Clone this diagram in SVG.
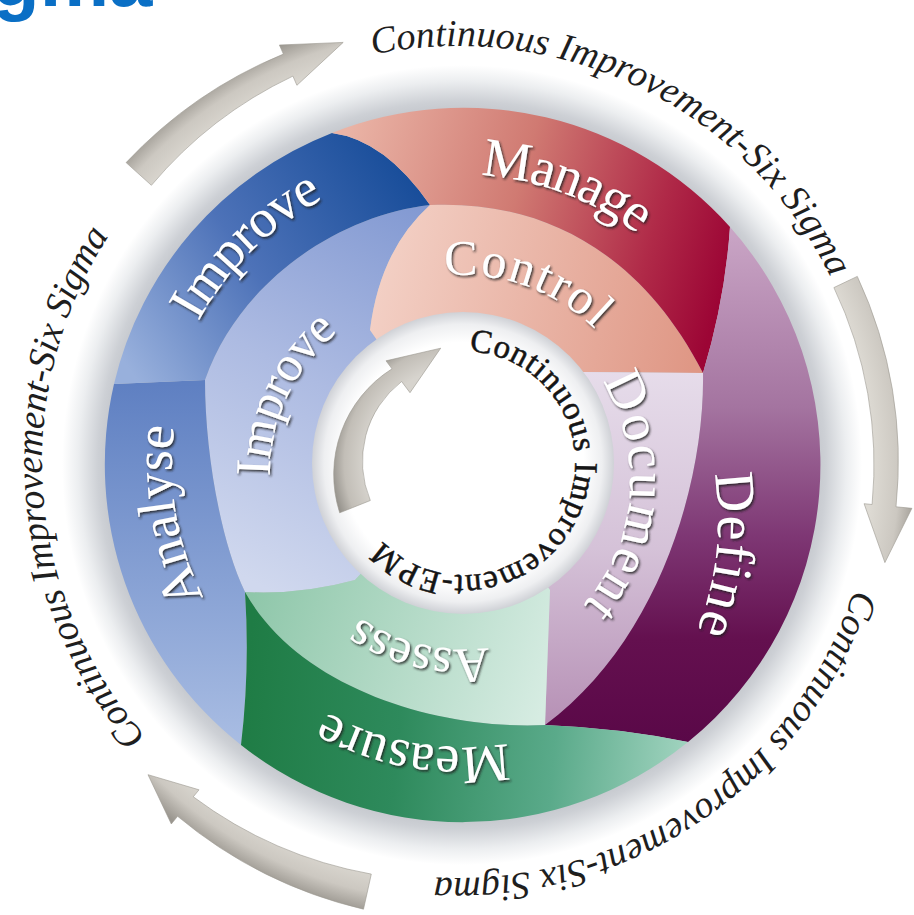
<svg xmlns="http://www.w3.org/2000/svg" width="914" height="915" viewBox="0 0 914 915">
<style>
.lbl{font-family:"Liberation Serif","Times New Roman",serif;fill:#ffffff;filter:url(#emb);}
.ring{font-family:"Liberation Serif","Times New Roman",serif;font-style:italic;font-size:38px;fill:#1e1e1e;}
.hubtxt{font-family:"Liberation Serif","Times New Roman",serif;font-size:33px;fill:#151515;stroke:#151515;stroke-width:0.5px;}
.title{font-family:"Liberation Sans",Arial,sans-serif;font-weight:bold;font-size:78px;fill:#0a6fc5;}
.arr{fill:url(#gArr);stroke:#9a978f;stroke-width:0.6;}
</style>
<defs>
<filter id="emb" x="-10%" y="-10%" width="130%" height="130%">
<feDropShadow dx="1.4" dy="1.8" stdDeviation="0.9" flood-color="#1e1e1e" flood-opacity="0.85"/>
</filter>
<radialGradient id="gShadow" gradientUnits="userSpaceOnUse" cx="462" cy="465" r="400">
<stop offset="0.87" stop-color="#bfc2c8"/><stop offset="0.91" stop-color="#cdd0d5"/><stop offset="0.96" stop-color="#eceef0"/><stop offset="1" stop-color="#ffffff"/>
</radialGradient>
<radialGradient id="gHub" gradientUnits="userSpaceOnUse" cx="463" cy="463" r="151">
<stop offset="0" stop-color="#ffffff"/><stop offset="0.8" stop-color="#ffffff"/><stop offset="0.92" stop-color="#eeeff1"/><stop offset="1" stop-color="#cfd1d6"/>
</radialGradient>
<radialGradient id="gArr" gradientUnits="userSpaceOnUse" cx="462" cy="465" r="470">
<stop offset="0.87" stop-color="#dedbd4"/><stop offset="0.93" stop-color="#ccc8c1"/><stop offset="0.975" stop-color="#9a968f"/>
</radialGradient>
<radialGradient id="gArrIn" gradientUnits="userSpaceOnUse" cx="463" cy="463" r="135">
<stop offset="0.72" stop-color="#d7d4ce"/><stop offset="0.88" stop-color="#c2beb7"/><stop offset="1" stop-color="#8c8983"/>
</radialGradient>
<linearGradient id="gAnalyse" gradientUnits="userSpaceOnUse" x1="0" y1="384" x2="0" y2="745">
<stop offset="0" stop-color="#5f80c2"/><stop offset="1" stop-color="#a9bde3"/>
</linearGradient>
<linearGradient id="gImpO" gradientUnits="userSpaceOnUse" x1="130" y1="370" x2="420" y2="170">
<stop offset="0" stop-color="#98b0dc"/><stop offset="0.45" stop-color="#4d72b8"/><stop offset="1" stop-color="#154b98"/>
</linearGradient>
<linearGradient id="gManage" gradientUnits="userSpaceOnUse" x1="340" y1="150" x2="730" y2="260">
<stop offset="0" stop-color="#eab4a6"/><stop offset="0.45" stop-color="#d07a72"/><stop offset="0.8" stop-color="#b02a48"/><stop offset="1" stop-color="#9c0535"/>
</linearGradient>
<linearGradient id="gControl" gradientUnits="userSpaceOnUse" x1="380" y1="260" x2="700" y2="340">
<stop offset="0" stop-color="#f3d0c5"/><stop offset="1" stop-color="#df9785"/>
</linearGradient>
<linearGradient id="gDefine" gradientUnits="userSpaceOnUse" x1="0" y1="227" x2="0" y2="742">
<stop offset="0" stop-color="#caa6c6"/><stop offset="0.35" stop-color="#a474a0"/><stop offset="0.6" stop-color="#7e3774"/><stop offset="0.8" stop-color="#64104f"/><stop offset="1" stop-color="#5a0848"/>
</linearGradient>
<linearGradient id="gDocument" gradientUnits="userSpaceOnUse" x1="0" y1="372" x2="0" y2="725">
<stop offset="0" stop-color="#e6dcea"/><stop offset="0.5" stop-color="#d5c2d8"/><stop offset="1" stop-color="#b690b5"/>
</linearGradient>
<linearGradient id="gAssess" gradientUnits="userSpaceOnUse" x1="250" y1="600" x2="545" y2="700">
<stop offset="0" stop-color="#8fc7aa"/><stop offset="1" stop-color="#d6ece2"/>
</linearGradient>
<linearGradient id="gMeasure" gradientUnits="userSpaceOnUse" x1="245" y1="700" x2="690" y2="740">
<stop offset="0" stop-color="#1f7c45"/><stop offset="0.35" stop-color="#2e8a5c"/><stop offset="0.7" stop-color="#5aaa8a"/><stop offset="1" stop-color="#a2d4c0"/>
</linearGradient>
<linearGradient id="gImpI" gradientUnits="userSpaceOnUse" x1="440" y1="215" x2="250" y2="580">
<stop offset="0" stop-color="#8299d2"/><stop offset="0.5" stop-color="#adbbe2"/><stop offset="1" stop-color="#d0d8ee"/>
</linearGradient>
<path id="pTop" d="M372.9,54.8 A416,416 0 0 1 859.8,354.3"/>
<path id="pRight" d="M854.1,589.2 A416,416 0 0 1 350.3,863.8"/>
<path id="pLeft" d="M146,737.1 A416,416 0 0 1 163.8,167.8"/>
<path id="pManage" d="M277.5,241.2 A290,290 0 0 1 748,417.1"/>
<path id="pControl" d="M338.6,320.5 A190,190 0 0 1 648.8,430.4"/>
<path id="pImpO" d="M171.6,540.1 A300,300 0 0 1 542.2,175.9"/>
<path id="pAnalyse" d="M361.6,737.1 A290,290 0 0 1 276.6,242"/>
<path id="pMeasure" d="M679,645.1 A282,282 0 0 1 197.5,562.8"/>
<path id="pDefine" d="M596.8,280.1 A298,298 0 0 1 539.3,793.1"/>
<path id="pDocument" d="M548.4,324 A190,190 0 0 1 520.9,651.9"/>
<path id="pImpI" d="M303.1,580.6 A185,185 0 0 1 439.5,290.6"/>
<path id="pAssess" d="M599,589.9 A186,186 0 0 1 285.1,517.4"/>
<path id="pHub" d="M468.9,351.2 A112,112 0 1 1 366,519"/>
</defs>
<rect width="914" height="915" fill="#ffffff"/>
<g id="title"><text class="title" x="-8" y="6">gma</text></g>
<g id="shadow"><circle cx="462" cy="465" r="400" fill="url(#gShadow)"/></g>
<g id="seg-improve-inner"><path fill="url(#gImpI)" d="M430,205 C340,215 240,280 205,380 C205,450 220,540 245,592 Q300,595 355,580 L463,463 L370,330 Q380,250 430,205 Z"/></g>
<g id="seg-control"><path fill="url(#gControl)" d="M430,205 C540,200 640,250 703,373 L583,372 L463,463 L370,330 Q380,250 430,205 Z"/></g>
<g id="seg-document"><path fill="url(#gDocument)" d="M703,373 C705,480 660,640 545,725 L550,590 L463,463 L583,372 Z"/></g>
<g id="seg-assess"><path fill="url(#gAssess)" d="M545,725 C440,730 300,690 245,592 Q300,595 355,580 L463,463 L550,590 Z"/></g>
<g id="seg-analyse"><path fill="url(#gAnalyse)" d="M241,745 A357,357 0 0 1 114,384 L205,380 C205,450 220,540 245,592 Q250,670 241,745 Z"/></g>
<g id="seg-improve-outer"><path fill="url(#gImpO)" d="M114,384 A357,357 0 0 1 332,133 Q385,140 430,205 C340,215 240,280 205,380 Z"/></g>
<g id="seg-manage"><path fill="url(#gManage)" d="M332,133 A357,357 0 0 1 730,227 Q725,300 703,373 C640,250 540,200 430,205 Q385,140 332,133 Z"/></g>
<g id="seg-define"><path fill="url(#gDefine)" d="M730,227 A357,357 0 0 1 688,742 Q620,728 545,725 C660,640 705,480 703,373 Q725,300 730,227 Z"/></g>
<g id="seg-measure"><path fill="url(#gMeasure)" d="M688,742 A357,357 0 0 1 241,745 Q250,670 245,592 C300,690 440,730 545,725 Q620,728 688,742 Z"/></g>
<g id="hub"><circle cx="463" cy="463" r="151" fill="url(#gHub)"/></g>
<g id="labels">
<text class="lbl" font-size="55" text-anchor="middle"><textPath href="#pManage" startOffset="50%" textLength="170" lengthAdjust="spacing">Manage</textPath></text>
<text class="lbl" font-size="50" text-anchor="middle"><textPath href="#pControl" startOffset="50%" textLength="165" lengthAdjust="spacing">Control</textPath></text>
<text class="lbl" font-size="54" text-anchor="middle"><textPath href="#pImpO" startOffset="50%" textLength="178" lengthAdjust="spacing">Improve</textPath></text>
<text class="lbl" font-size="54" text-anchor="middle"><textPath href="#pAnalyse" startOffset="50%" textLength="176" lengthAdjust="spacing">Analyse</textPath></text>
<text class="lbl" font-size="54" text-anchor="middle"><textPath href="#pMeasure" startOffset="50%" textLength="188" lengthAdjust="spacing">Measure</textPath></text>
<text class="lbl" font-size="56" text-anchor="middle"><textPath href="#pDefine" startOffset="50%" textLength="160" lengthAdjust="spacing">Define</textPath></text>
<text class="lbl" font-size="54" text-anchor="middle"><textPath href="#pDocument" startOffset="50%" textLength="240" lengthAdjust="spacing">Document</textPath></text>
<text class="lbl" font-size="50" text-anchor="middle"><textPath href="#pImpI" startOffset="50%" textLength="165" lengthAdjust="spacing">Improve</textPath></text>
<text class="lbl" font-size="50" text-anchor="middle"><textPath href="#pAssess" startOffset="50%" textLength="136" lengthAdjust="spacing">Assess</textPath></text>
</g>
<g id="hub-text"><text class="hubtxt"><textPath href="#pHub" textLength="436" lengthAdjust="spacing">Continuous Improvement-EPM</textPath></text></g>
<g id="ring-text">
<text class="ring"><textPath href="#pTop" textLength="548" lengthAdjust="spacing">Continuous Improvement-Six Sigma</textPath></text>
<text class="ring"><textPath href="#pRight" textLength="548" lengthAdjust="spacing">Continuous Improvement-Six Sigma</textPath></text>
<text class="ring"><textPath href="#pLeft" textLength="540" lengthAdjust="spacing">Continuous Improvement-Six Sigma</textPath></text>
</g>
<g id="connectors">
<path class="arr" d="M126.1,162.6 A450,450 0 0 1 283.4,54.1 L279.4,45 L343.2,42.4 L296.9,85.3 L292.9,76.1 A421,421 0 0 0 151.4,185.3 Z"/>
<path class="arr" d="M857.3,276.4 A437,437 0 0 1 896,506.8 L911.9,508.3 L884.9,562.6 L864.1,503.7 L872.1,504.5 A412,412 0 0 0 833.9,287.6 Z"/>
<path class="arr" d="M371.3,874.1 A423,423 0 0 1 193.3,796.8 L199,789.8 L148,774.7 L171.3,824 L177.6,816.3 A453,453 0 0 0 363.5,909.2 Z"/>
<path fill="url(#gArrIn)" stroke="#9a978f" stroke-width="0.6" d="M339.7,512.8 A125,125 0 0 1 392,368.8 L386,360.8 L440.7,348.2 L410,392.7 L401.6,381.5 A101,101 0 0 0 370.3,500.5 Z"/>
</g>
</svg>
